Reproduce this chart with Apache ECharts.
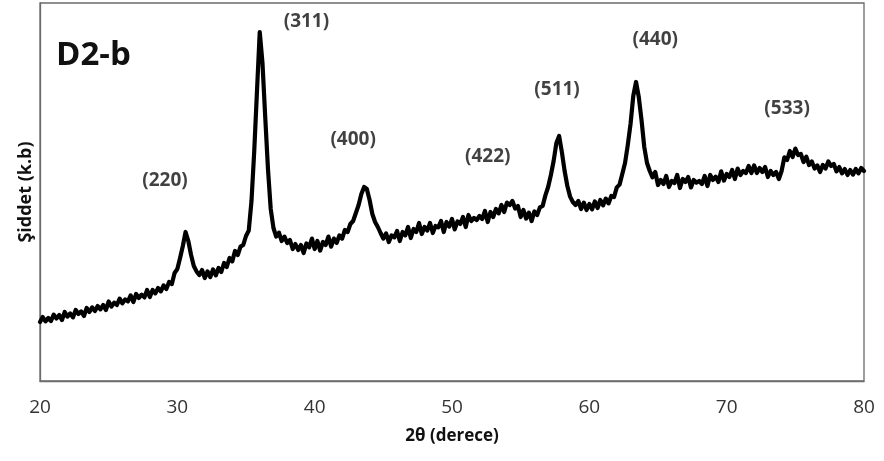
<!DOCTYPE html>
<html>
<head>
<meta charset="utf-8">
<script src="https://cdn.jsdelivr.net/npm/echarts@6/dist/echarts.min.js"></script>
<style>
html,body{margin:0;padding:0;background:#fff;}
#chart{width:884px;height:461px;}
</style>
</head>
<body>
<div id="chart"></div>
<script>
// 2θ scan angles (degrees)
const twoTheta = [
20.0,20.2,20.4,20.6,20.8,21.0,21.2,21.4,21.6,21.8,22.0,22.2,22.4,22.6,22.8,23.0,23.2,23.4,23.6,23.8,
24.0,24.2,24.4,24.6,24.8,25.0,25.2,25.4,25.6,25.8,26.0,26.2,26.4,26.6,26.8,27.0,27.2,27.4,27.6,27.8,
28.0,28.2,28.4,28.6,28.8,29.0,29.2,29.4,29.6,29.8,30.0,30.2,30.4,30.6,30.8,31.0,31.2,31.4,31.6,31.8,
32.0,32.2,32.4,32.6,32.8,33.0,33.2,33.4,33.6,33.8,34.0,34.2,34.4,34.6,34.8,35.0,35.2,35.4,35.6,35.8,
36.0,36.2,36.4,36.6,36.8,37.0,37.2,37.4,37.6,37.8,38.0,38.2,38.4,38.6,38.8,39.0,39.2,39.4,39.6,39.8,
40.0,40.2,40.4,40.6,40.8,41.0,41.2,41.4,41.6,41.8,42.0,42.2,42.4,42.6,42.8,43.0,43.2,43.4,43.6,43.8,
44.0,44.2,44.4,44.6,44.8,45.0,45.2,45.4,45.6,45.8,46.0,46.2,46.4,46.6,46.8,47.0,47.2,47.4,47.6,47.8,
48.0,48.2,48.4,48.6,48.8,49.0,49.2,49.4,49.6,49.8,50.0,50.2,50.4,50.6,50.8,51.0,51.2,51.4,51.6,51.8,
52.0,52.2,52.4,52.6,52.8,53.0,53.2,53.4,53.6,53.8,54.0,54.2,54.4,54.6,54.8,55.0,55.2,55.4,55.6,55.8,
56.0,56.2,56.4,56.6,56.8,57.0,57.2,57.4,57.6,57.8,58.0,58.2,58.4,58.6,58.8,59.0,59.2,59.4,59.6,59.8,
60.0,60.2,60.4,60.6,60.8,61.0,61.2,61.4,61.6,61.8,62.0,62.2,62.4,62.6,62.8,63.0,63.2,63.4,63.6,63.8,
64.0,64.2,64.4,64.6,64.8,65.0,65.2,65.4,65.6,65.8,66.0,66.2,66.4,66.6,66.8,67.0,67.2,67.4,67.6,67.8,
68.0,68.2,68.4,68.6,68.8,69.0,69.2,69.4,69.6,69.8,70.0,70.2,70.4,70.6,70.8,71.0,71.2,71.4,71.6,71.8,
72.0,72.2,72.4,72.6,72.8,73.0,73.2,73.4,73.6,73.8,74.0,74.2,74.4,74.6,74.8,75.0,75.2,75.4,75.6,75.8,
76.0,76.2,76.4,76.6,76.8,77.0,77.2,77.4,77.6,77.8,78.0,78.2,78.4,78.6,78.8,79.0,79.2,79.4,79.6,79.8,
80.0
];
// Intensity (arbitrary units)
const intensity = [
295,320,298,315,300,332,312,330,305,345,322,338,318,355,335,348,325,365,345,368,
350,375,358,380,355,398,372,392,380,412,388,408,398,428,395,435,415,432,418,455,
420,455,438,465,448,478,460,495,485,540,560,615,675,745,700,630,575,548,530,555,
515,548,520,558,528,565,545,590,570,615,598,650,630,672,680,725,752,900,1150,1450,
1745,1590,1320,1060,860,765,722,742,700,722,690,705,660,685,655,680,640,688,668,712,
660,700,652,695,680,722,672,712,690,728,712,755,745,785,800,840,880,935,970,960,
905,835,795,770,740,712,738,695,728,718,750,700,745,728,770,715,760,745,790,735,
770,752,790,740,775,768,800,745,795,772,810,758,798,785,820,770,830,800,815,805,
825,810,850,795,845,820,860,838,880,845,892,880,900,862,875,820,855,812,842,800,
848,830,868,875,928,970,1030,1100,1190,1225,1145,1050,975,922,895,880,900,860,892,855,
885,858,898,865,905,878,912,888,925,920,968,982,1035,1090,1180,1285,1425,1495,1420,1305,
1170,1090,1050,1018,1045,980,1005,985,1025,970,1000,990,1030,965,1010,995,1020,968,1005,992,
1000,985,1025,975,1030,1005,1022,995,1048,1002,1035,1020,1055,1010,1062,1030,1050,1040,1075,1040,
1078,1040,1065,1045,1070,1020,1050,1030,1045,1010,1050,1118,1105,1150,1120,1162,1130,1135,1095,1122,
1080,1098,1062,1078,1045,1080,1062,1098,1075,1085,1048,1070,1038,1060,1030,1055,1032,1060,1038,1065,
1050
];
// Reflection labels (Miller indices) and their positions
const peakLabels = ['(220)','(311)','(400)','(422)','(511)','(440)','(533)'];
const peakLabelX = [29.1, 39.4, 42.8, 52.6, 57.65, 64.8, 74.4];
const peakLabelY = [1000, 1795, 1205, 1120, 1455, 1705, 1360];
const xTicks = [20,30,40,50,60,70,80];

const chart = echarts.init(document.getElementById('chart'), null, {renderer:'canvas'});
const lineData = twoTheta.map((t,i)=>[t,intensity[i]]);
const labelData = peakLabels.map((n,i)=>({name:n, value:[peakLabelX[i], peakLabelY[i]]}));

chart.setOption({
  animation:false,
  backgroundColor:'#fff',
  grid:{left:40,right:20,top:3,bottom:80,show:true,borderColor:'#6b6b6b',borderWidth:1.3,backgroundColor:'transparent'},
  title:{text:'D2-b',left:51,top:34,textStyle:{fontFamily:'Open Sans',fontWeight:'bold',fontSize:33,color:'#111'}},
  xAxis:{
    type:'value',min:20,max:80,interval:10,
    name:'2θ (derece)',nameLocation:'middle',nameGap:47,
    nameTextStyle:{fontFamily:'Open Sans',fontWeight:'bold',fontSize:17,color:'#111'},
    axisLine:{show:true,lineStyle:{color:'#6b6b6b',width:1.3}},
    axisTick:{show:false},splitLine:{show:false},
    axisLabel:{margin:17,fontFamily:'Open Sans',fontSize:19,color:'#333',
      formatter:v=>xTicks.includes(v)?String(v):''}
  },
  yAxis:{
    type:'value',min:0,max:1890,
    name:'Şiddet (k.b)',nameLocation:'middle',nameGap:5,nameRotate:90,
    nameTextStyle:{fontFamily:'Open Sans',fontWeight:'bold',fontSize:18,color:'#111'},
    axisLine:{show:true,lineStyle:{color:'#6b6b6b',width:1.3}},
    axisTick:{show:false},axisLabel:{show:false},splitLine:{show:false}
  },
  series:[
    {type:'line',data:lineData,showSymbol:false,symbol:'none',
     lineStyle:{color:'#000',width:4.2,join:'round',cap:'round'},z:3},
    {type:'scatter',data:labelData,symbolSize:0,silent:true,
     label:{show:true,position:'inside',formatter:p=>p.name,
       fontFamily:'Open Sans',fontWeight:'bold',fontSize:19,color:'#111'}}
  ]
});
</script>
</body>
</html>
